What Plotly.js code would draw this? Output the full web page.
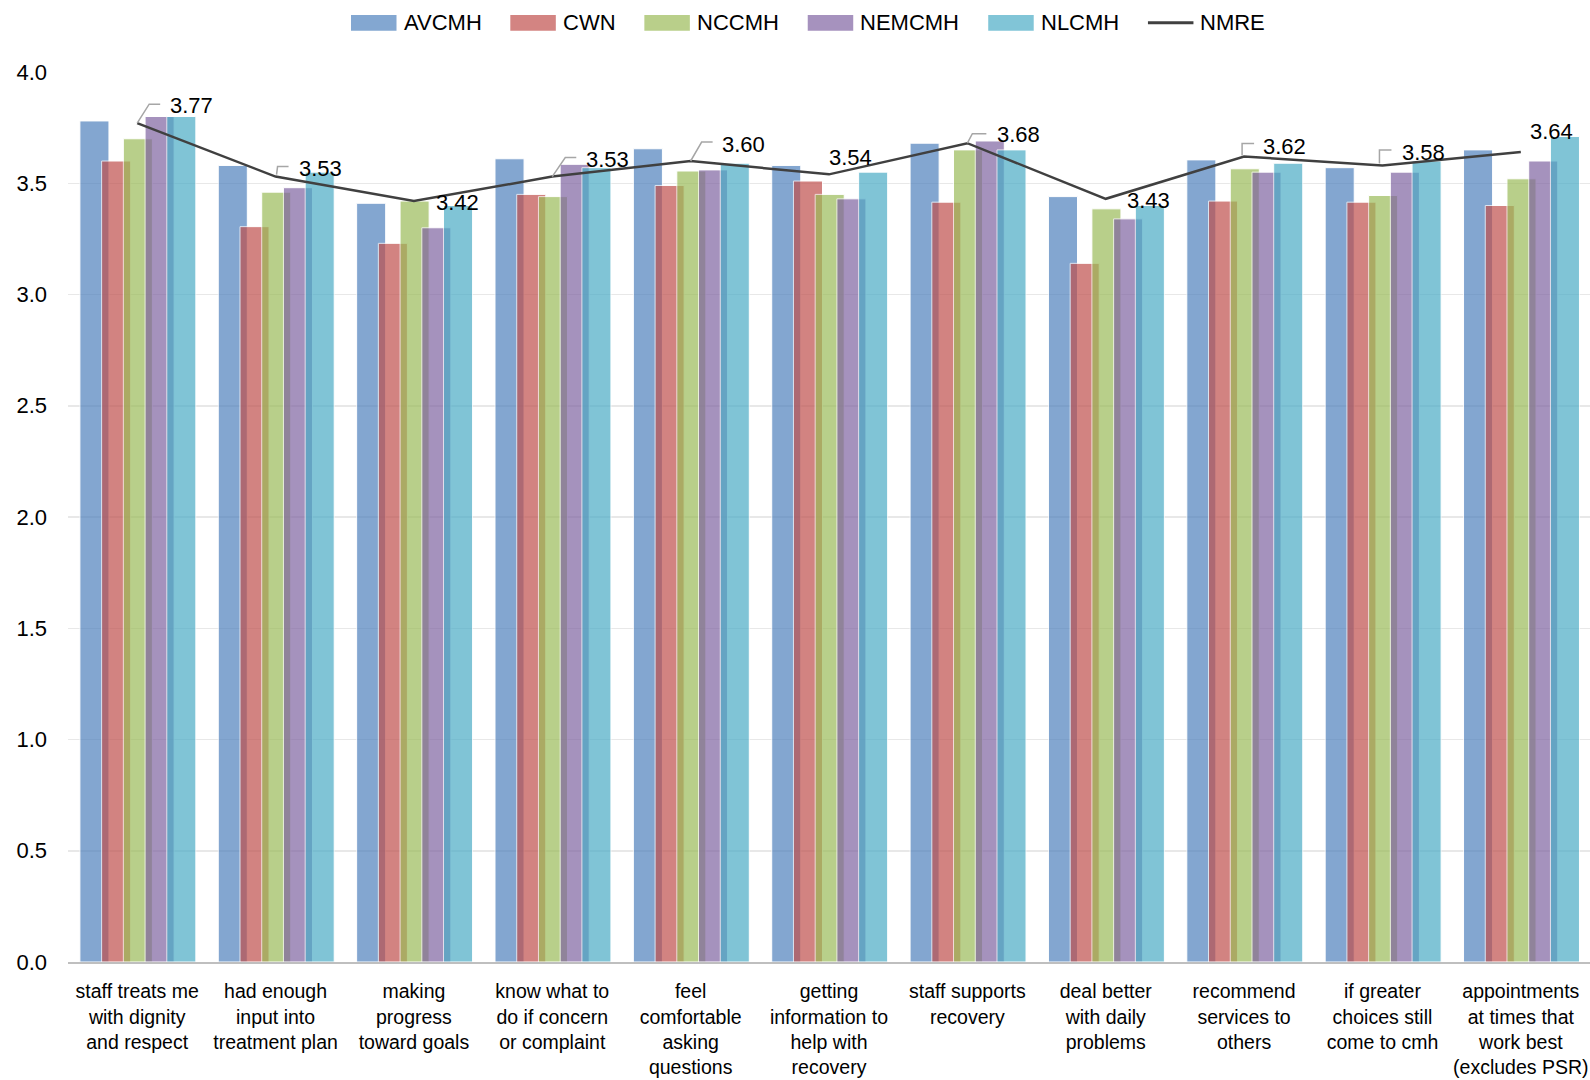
<!DOCTYPE html>
<html>
<head>
<meta charset="utf-8">
<script src="https://cdn.plot.ly/plotly-3.0.1.min.js"></script>
<style>
  html, body { margin: 0; padding: 0; background: #ffffff; }
  #chart { width: 1590px; height: 1080px; }
</style>
</head>
<body>
<div id="chart"></div>
<script>
// Survey item categories (x axis)
const categories = [
  'staff treats me<br>with dignity<br>and respect',
  'had enough<br>input into<br>treatment plan',
  'making<br>progress<br>toward goals',
  'know what to<br>do if concern<br>or complaint',
  'feel<br>comfortable<br>asking<br>questions',
  'getting<br>information to<br>help with<br>recovery',
  'staff supports<br>recovery',
  'deal better<br>with daily<br>problems',
  'recommend<br>services to<br>others',
  'if greater<br>choices still<br>come to cmh',
  'appointments<br>at times that<br>work best<br>(excludes PSR)'
];

// Mean scores per agency
const seriesNames = ['AVCMH', 'CWN', 'NCCMH', 'NEMCMH', 'NLCMH'];
const avcmh  = [3.78, 3.58, 3.41, 3.61, 3.655, 3.58, 3.68, 3.44, 3.605, 3.57, 3.65];
const cwn    = [3.60, 3.305, 3.23, 3.45, 3.49, 3.51, 3.415, 3.14, 3.42, 3.415, 3.40];
const nccmh  = [3.70, 3.46, 3.42, 3.44, 3.555, 3.45, 3.65, 3.385, 3.565, 3.445, 3.52];
const nemcmh = [3.80, 3.48, 3.30, 3.585, 3.56, 3.43, 3.69, 3.34, 3.55, 3.55, 3.60];
const nlcmh  = [3.80, 3.55, 3.40, 3.57, 3.59, 3.55, 3.65, 3.40, 3.59, 3.60, 3.71];

// Regional overall (line)
const lineName = 'NMRE';
const nmre = [3.77, 3.53, 3.42, 3.53, 3.60, 3.54, 3.68, 3.43, 3.62, 3.58, 3.64];

const yTickVals = [0, 0.5, 1.0, 1.5, 2.0, 2.5, 3.0, 3.5, 4.0];

// ---- styling ----
const FONT = '"Liberation Sans", Arial, sans-serif';
const barColors = ['#4f81bd', '#c0504d', '#9bbb59', '#8064a2', '#4bacc6'];
const barAlpha = 0.7;
const lineColor = '#404040';
const W = 1590, H = 1080;
const M = { l: 68, r: 0, t: 72, b: 118 };
const plotW = W - M.l - M.r, plotH = H - M.t - M.b;
const px2paperX = p => (p - M.l) / plotW;
const px2paperY = p => (H - M.b - p) / plotH;

// overlapping bars inside each category
const barWidth = 0.21, barStep = 0.157, barStart = -0.414;

const seriesValues = [avcmh, cwn, nccmh, nemcmh, nlcmh];
const traces = seriesValues.map((vals, i) => ({
  type: 'bar',
  name: seriesNames[i],
  x: categories,
  y: vals,
  width: barWidth,
  offset: barStart + i * barStep,
  marker: { color: barColors[i], opacity: barAlpha, line: { color: '#ffffff', width: 1 } },
  showlegend: false,
  hoverinfo: 'x+y+name'
}));

traces.push({
  type: 'scatter',
  mode: 'lines',
  name: lineName,
  x: categories,
  y: nmre,
  line: { color: lineColor, width: 2.5 },
  showlegend: false
});

// label placement for the line values (pixel offsets from each point)
const labelShift = [
  [31, 18], [21, 8], [20, -1], [32, 17], [29, 17], [-2, 17],
  [28, 9], [19, -2], [17, 10], [18, 13], [7, 21]
];
// elbow leader lines (pixel paths relative to the point), null = none
const leaderPaths = [
  'M0,0 L12,19 L23,19',
  'M1,2 L2,10 L13,10',
  null,
  'M0,0 L13,19 L24,19',
  'M0,0 L11,19 L22,19',
  null,
  'M0,0 L5,9.5 L19,9.5',
  null,
  'M-2,1 L-2,13 L10,13',
  'M-3,2 L-3,15.5 L9,15.5',
  null
];

const annotations = [];
const shapes = [];

nmre.forEach((v, i) => {
  annotations.push({
    x: categories[i], y: v, xref: 'x', yref: 'y',
    text: v.toFixed(2), showarrow: false,
    xanchor: 'left', yanchor: 'middle',
    xshift: labelShift[i][0], yshift: labelShift[i][1],
    font: { family: FONT, size: 22, color: '#000000' }
  });
  if (leaderPaths[i]) {
    shapes.push({
      type: 'path', xref: 'x', yref: 'y',
      xsizemode: 'pixel', ysizemode: 'pixel',
      xanchor: categories[i], yanchor: v,
      path: leaderPaths[i],
      line: { color: '#a6a6a6', width: 1.5 }
    });
  }
});

// legend along the top
const ctx = document.createElement('canvas').getContext('2d');
ctx.font = '22px ' + FONT;
const legendItems = seriesNames.map((n, i) => ({ name: n, kind: 'bar', color: barColors[i] }))
  .concat([{ name: lineName, kind: 'line', color: lineColor }]);
let lx = 351;
const legY = 22.8, swW = 45.5, swH = 15.7, swGap = 5, itemGap = 31;
legendItems.forEach(item => {
  if (item.kind === 'bar') {
    shapes.push({
      type: 'rect', xref: 'paper', yref: 'paper',
      x0: px2paperX(lx), x1: px2paperX(lx + swW),
      y0: px2paperY(legY + swH / 2), y1: px2paperY(legY - swH / 2),
      fillcolor: item.color, opacity: barAlpha, line: { width: 0 }
    });
  } else {
    shapes.push({
      type: 'line', xref: 'paper', yref: 'paper',
      x0: px2paperX(lx), x1: px2paperX(lx + swW),
      y0: px2paperY(legY), y1: px2paperY(legY),
      line: { color: item.color, width: 3 }
    });
  }
  const tx = lx + swW + swGap;
  annotations.push({
    x: px2paperX(tx), y: px2paperY(legY), xref: 'paper', yref: 'paper',
    text: item.name, showarrow: false, xanchor: 'left', yanchor: 'middle',
    font: { family: FONT, size: 22, color: '#000000' }
  });
  lx = tx + ctx.measureText(item.name).width + itemGap;
});

const layout = {
  width: W, height: H,
  margin: M,
  paper_bgcolor: '#ffffff',
  plot_bgcolor: '#ffffff',
  barmode: 'overlay',
  showlegend: false,
  font: { family: FONT, color: '#000000' },
  xaxis: {
    type: 'category',
    range: [-0.5, categories.length - 0.5],
    showline: true, linecolor: '#bfbfbf', linewidth: 2,
    showgrid: false, ticks: '',
    tickfont: { family: FONT, size: 19.5, color: '#000000' },
    ticklabelstandoff: 11,
    fixedrange: true
  },
  yaxis: {
    range: [0, 4.0],
    tickvals: yTickVals,
    ticktext: yTickVals.map(v => v.toFixed(1)),
    showgrid: true, gridcolor: '#e8e8e8', gridwidth: 1.5,
    zeroline: false, showline: false, ticks: '',
    tickfont: { family: FONT, size: 22, color: '#000000' },
    ticklabelstandoff: 20,
    fixedrange: true
  },
  annotations: annotations,
  shapes: shapes
};

Plotly.newPlot('chart', traces, layout, { displayModeBar: false, staticPlot: true });
</script>
</body>
</html>
